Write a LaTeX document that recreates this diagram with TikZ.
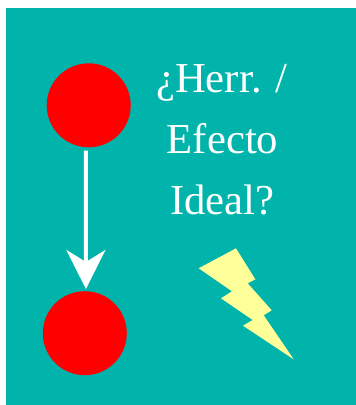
\documentclass[tikz,border=0pt]{standalone}
\usepackage{fontspec}
\setmainfont{Liberation Serif}
\usetikzlibrary{arrows.meta}
\definecolor{bgteal}{RGB}{0,180,172}
\definecolor{boltyellow}{RGB}{255,255,153}
\tikzset{
  dot/.style={circle,fill=red,draw=none,inner sep=0pt,minimum size=84pt},
  lbl/.style={text=white,font=\fontsize{42.7}{42.7}\selectfont,anchor=base,inner sep=0pt},
  conn/.style={white,line width=4pt,-{Stealth[length=39pt,width=39pt,inset=12pt]}}
}
\begin{document}
\begin{tikzpicture}[x=1pt,y=-1pt]
\useasboundingbox (0,0) rectangle (356,405);
\fill[white] (0,0) rectangle (356,405);
\fill[bgteal] (6,8) rectangle (356,405);
\node[dot] (top) at (88.7,105.3) {};
\node[dot] (bottom) at (84.8,333.2) {};
\draw[conn] ([xshift=-2.8pt,yshift=-3pt]top.south) -- ([xshift=1.1pt,yshift=2pt]bottom.north);
\node[lbl] (l1) at (222,92) {¿Herr. /};
\node[lbl] (l2) at (222.5,153) {Efecto};
\node[lbl] (l3) at (222.5,214) {Ideal?};
\fill[boltyellow] (236,248.3) -- (255.3,279.3) -- (247.7,283.3) -- (271.7,310.3) -- (263.7,315.3) -- (293.7,359.3) -- (243,325.7) -- (252.7,320) -- (221,298.3) -- (232,291.3) -- (198.7,268.3) -- cycle;
\end{tikzpicture}
\end{document}
